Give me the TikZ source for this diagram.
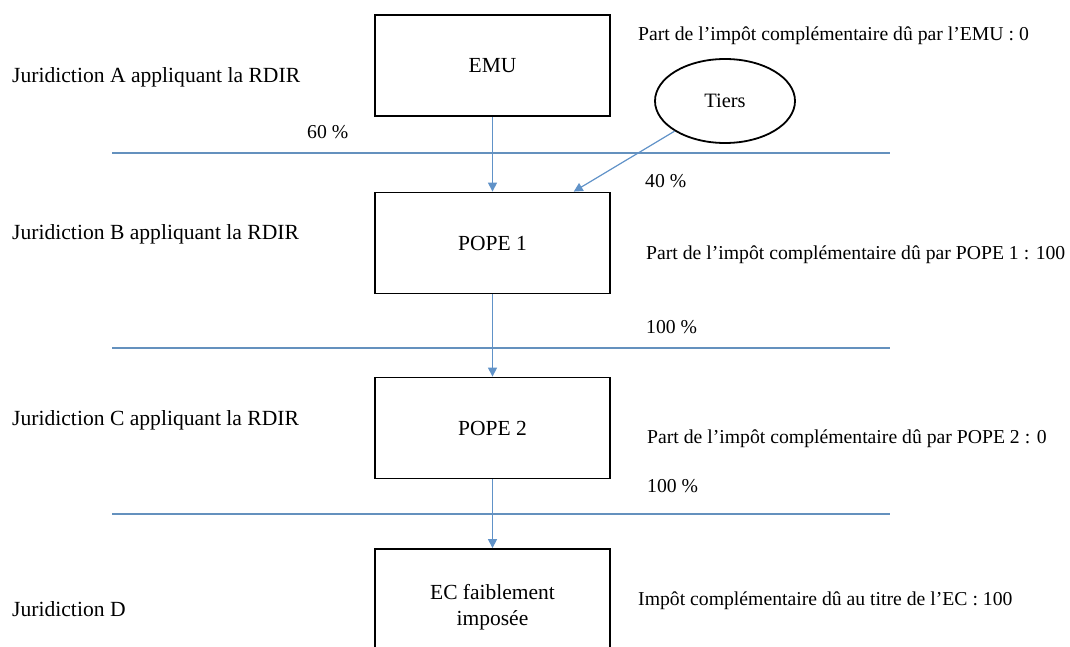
\documentclass[tikz,border=0pt]{standalone}
\usepackage{fontspec}
\setmainfont{Liberation Serif}
\usetikzlibrary{arrows.meta,shapes.geometric,calc}
\definecolor{flowblue}{RGB}{96,146,200}
\definecolor{rulegray}{RGB}{100,145,190}
\begin{document}
\begin{tikzpicture}[x=1pt,y=-1pt,
  entity/.style={draw=black,line width=1.8pt,rectangle,minimum width=235pt,minimum height=101pt,inner sep=0pt,align=center,text depth=0pt,font=\fontsize{21.5}{26}\selectfont},
  party/.style={draw=black,line width=1.8pt,ellipse,minimum width=140pt,minimum height=84pt,inner sep=0pt,font=\fontsize{20.4}{24}\selectfont},
  bigtxt/.style={anchor=base west,inner sep=0pt,font=\fontsize{21.6}{26}\selectfont},
  smalltxt/.style={anchor=base west,inner sep=0pt,font=\fontsize{19.7}{24}\selectfont},
  flow/.style={draw=flowblue,line width=1.2pt,-{Triangle[length=9pt,width=9pt]}},
  divider/.style={draw=rulegray,line width=1.3pt}]
\useasboundingbox (0,0) rectangle (1070,647);

% jurisdiction dividers
\draw[divider] (112,153) -- (890,153);
\draw[divider] (112,348) -- (890,348);
\draw[divider] (112,514) -- (890,514);

% entities
\node[entity] (emu) at (492.5,65.5) {EMU};
\node[entity] (pope1) at (492.5,243) {POPE 1};
\node[entity] (pope2) at (492.5,428) {POPE 2};
\node[entity,minimum height=111pt] (ec) at (492.5,604.5) {EC faiblement\\imposée};
\node[party] (tiers) at (725,101) {Tiers};

% ownership chain
\coordinate (tiersin) at ($(pope1.north west)!0.843!(pope1.north east)$);
\draw[flow] (emu.south) -- (pope1.north);
\draw[flow] (tiers) -- (tiersin);
\draw[flow] (pope1.south) -- (pope2.north);
\draw[flow] (pope2.south) -- (ec.north);

% jurisdiction labels
\node[bigtxt] (ja) at (12,83) {Juridiction A appliquant la RDIR};
\node[bigtxt] (jb) at (12,239) {Juridiction B appliquant la RDIR};
\node[bigtxt] (jc) at (12,425) {Juridiction C appliquant la RDIR};
\node[bigtxt] (jd) at (12,616) {Juridiction D};

% ownership percentages
\node[smalltxt] (p60) at (307,139) {60 \%};
\node[smalltxt] (p40) at (645,188) {40 \%};
\node[smalltxt] (p100a) at (646,333) {100 \%};
\node[smalltxt] (p100b) at (647,492) {100 \%};

% top-up tax allocation
\node[smalltxt] (temu) at (638,41) {Part de l’impôt complémentaire dû par l’EMU : 0};
\node[smalltxt] (tp1) at (646,259) {Part de l’impôt complémentaire dû par POPE 1 : 100};
\node[smalltxt] (tp2) at (647,443) {Part de l’impôt complémentaire dû par POPE 2 : 0};
\node[smalltxt] (tec) at (638,605) {Impôt complémentaire dû au titre de l’EC : 100};
\end{tikzpicture}
\end{document}
